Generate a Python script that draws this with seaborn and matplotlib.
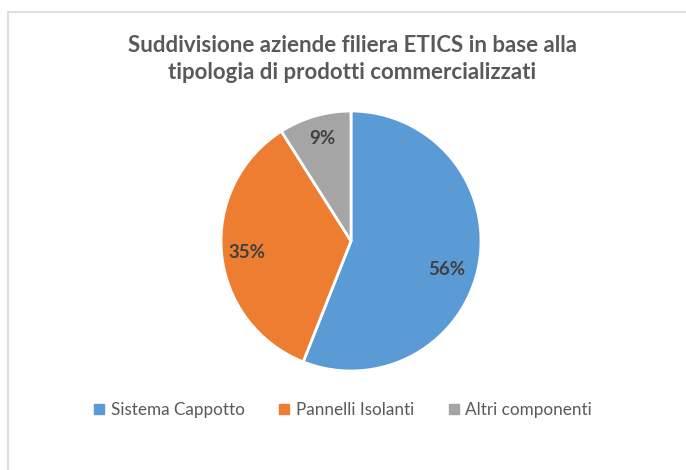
import matplotlib
matplotlib.use("Agg")
import matplotlib.pyplot as plt
from matplotlib.lines import Line2D
import seaborn as sns

# --- Daten ---
categorie = ["Sistema Cappotto", "Pannelli Isolanti", "Altri componenti"]
quote = [56, 35, 9]
colori = ["#5B9BD5", "#ED7D31", "#A5A5A5"]
titolo = "Suddivisione aziende filiera ETICS in base alla\ntipologia di prodotti commercializzati"

# Position der Prozent-Labels (wie im Original, in Radius-Einheiten)
label_pos = [(0.74, -0.22), (-0.80, -0.09), (-0.22, 0.79)]

sns.set_theme(style="white")
plt.rcParams['font.family'] = ['Lato', 'DejaVu Sans']

fig = plt.figure(figsize=(6.86, 4.70), dpi=100)
fig.patch.set_facecolor("white")

# Rahmen (oben + links)
fig.add_artist(Line2D([8 / 686, 8 / 686], [0, 1 - 12 / 470], transform=fig.transFigure,
                      color="#D9D9D9", lw=1.2))
fig.add_artist(Line2D([8 / 686, 1], [1 - 12 / 470, 1 - 12 / 470], transform=fig.transFigure,
                      color="#D9D9D9", lw=1.2))

# Pie-Achse: Mittelpunkt (351, 241), Radius 130 px
ax = fig.add_axes([(351 - 130) / 686, (470 - 241 - 130) / 470, 260 / 686, 260 / 470])
wedges, _, autotexts = ax.pie(quote, colors=colori, startangle=90, counterclock=False,
                              autopct=lambda p: f"{p:.0f}%", pctdistance=0.8,
                              wedgeprops=dict(edgecolor="white", linewidth=2))
for t, pos in zip(autotexts, label_pos):
    t.set_position(pos)
    t.set_color("#404040")
    t.set_fontsize(13.5)
    t.set_fontweight("bold")
ax.set_xlim(-1, 1)
ax.set_ylim(-1, 1)
ax.set_aspect("equal")
ax.axis("off")

fig.text(352 / 686, 1 - 59 / 470, titolo, ha="center", va="center", fontsize=16,
         fontweight="bold", color="#595959", linespacing=1.3)

handles = [Line2D([0], [0], marker="s", linestyle="", markersize=7, color=c) for c in colori]
fig.legend(handles, categorie, loc="center", bbox_to_anchor=(343 / 686, 1 - 410 / 470),
           ncol=3, frameon=False, prop=dict(size=12.3),
           handlelength=0.6, handletextpad=0.4, columnspacing=2.0, labelcolor="#595959")

fig.savefig("out.png", dpi=100)
